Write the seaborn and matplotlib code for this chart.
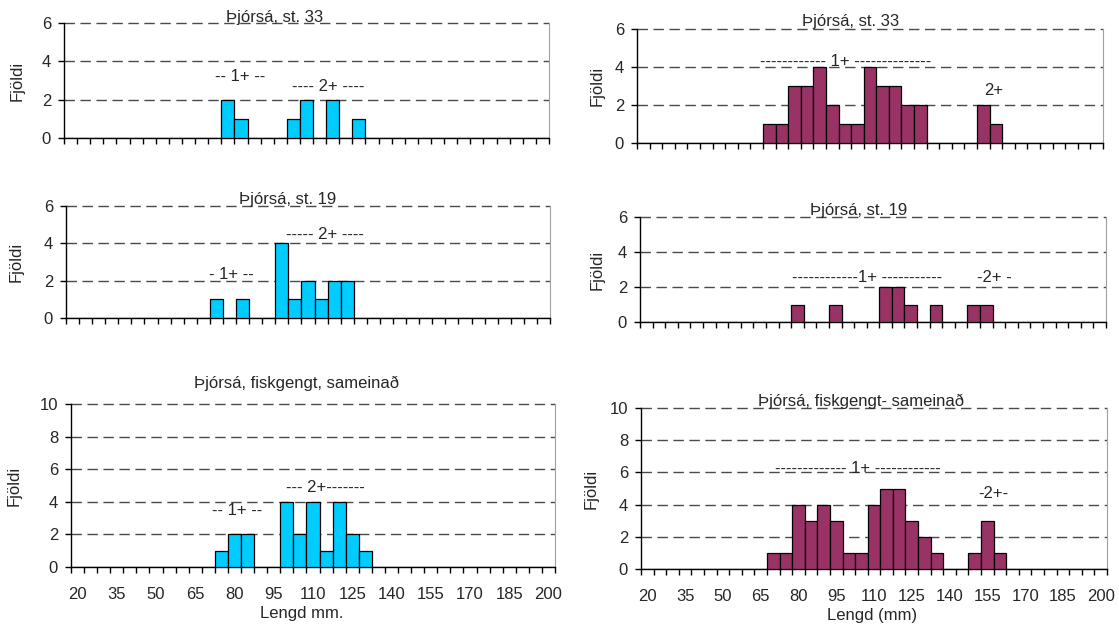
import matplotlib
matplotlib.use("Agg")
import matplotlib.pyplot as plt
import seaborn as sns
import pandas as pd

# ---------------- data ----------------
lengths = [20, 25, 30, 35, 40, 45, 50, 55, 60, 65, 70, 75, 80, 85, 90, 95, 100,
           105, 110, 115, 120, 125, 130, 135, 140, 145, 150, 155, 160, 165, 170,
           175, 180, 185, 190, 195, 200]
tick_labels = ["20", "35", "50", "65", "80", "95", "110", "125", "140", "155",
               "170", "185", "200"]

st33_a_len = [80, 85, 105, 110, 120, 130]
st33_a_n = [2, 1, 1, 2, 2, 1]
st19_a_len = [75, 85, 100, 105, 110, 115, 120, 125]
st19_a_n = [1, 1, 4, 1, 2, 1, 2, 2]
comb_a_len = [75, 80, 85, 100, 105, 110, 115, 120, 125, 130]
comb_a_n = [1, 2, 2, 4, 2, 4, 1, 4, 2, 1]

st33_b_len = [70, 75, 80, 85, 90, 95, 100, 105, 110, 115, 120, 125, 130, 155, 160]
st33_b_n = [1, 1, 3, 3, 4, 2, 1, 1, 4, 3, 3, 2, 2, 2, 1]
st19_b_len = [80, 95, 115, 120, 125, 135, 150, 155]
st19_b_n = [1, 1, 2, 2, 1, 1, 1, 1]
comb_b_len = [70, 75, 80, 85, 90, 95, 100, 105, 110, 115, 120, 125, 130, 135,
              150, 155, 160]
comb_b_n = [1, 1, 4, 3, 4, 3, 1, 1, 4, 5, 5, 3, 2, 1, 1, 3, 1]

titles = ["Þjórsá, st. 33", "Þjórsá, st. 33", "Þjórsá, st. 19", "Þjórsá, st. 19",
          "Þjórsá, fiskgengt, sameinað", "Þjórsá, fiskgengt- sameinað"]
xlabels = ["Lengd mm.", "Lengd (mm)"]

CYAN = "#00CCFF"
MAROON = "#993366"
FS = 12

W, H = 1119, 628
sns.set_theme(style="white")
plt.rcParams["font.family"] = ["Liberation Sans", "DejaVu Sans"]

fig = plt.figure(figsize=(W / 100, H / 100), dpi=100)


def rect(l, r, t, b):
    return [l / W, 1 - b / H, (r - l) / W, (b - t) / H]


panels = [
    dict(lens=st33_a_len, n=st33_a_n, color=CYAN, rect=rect(64, 549, 23, 138),
         ymax=6, title=titles[0], tx=15.6, ty=6.05,
         ann=[("-- 1+ --", 12.9, 3.19), ("---- 2+ ----", 19.65, 2.7)],
         ylx=25, bottom=False),
    dict(lens=st33_b_len, n=st33_b_n, color=MAROON, rect=rect(637, 1103, 29, 143),
         ymax=6, title=titles[1], tx=16.48, ty=6.14,
         ann=[("------------ 1+ --------------", 16.1, 4.29), ("2+", 27.8, 2.74)],
         ylx=605, bottom=False),
    dict(lens=st19_a_len, n=st19_a_n, color=CYAN, rect=rect(66, 550, 206, 318),
         ymax=6, title=titles[2], tx=16.45, ty=6.12,
         ann=[("- 1+ --", 12.13, 2.34), ("----- 2+ ----", 19.27, 4.47)],
         ylx=24, bottom=False),
    dict(lens=st19_b_len, n=st19_b_n, color=MAROON, rect=rect(640, 1106, 217, 322),
         ymax=6, title=titles[3], tx=16.85, ty=6.09,
         ann=[("------------1+ -----------", 17.56, 2.54), ("-2+ -", 27.6, 2.54)],
         ylx=605, bottom=False),
    dict(lens=comb_a_len, n=comb_a_n, color=CYAN, rect=rect(71, 555, 404, 567),
         ymax=10, title=titles[4], tx=16.76, ty=10.98,
         ann=[("-- 1+ --", 12.2, 3.44), ("--- 2+-------", 18.94, 4.85)],
         ylx=22, bottom=True, xlabel=xlabels[0], xlx=302),
    dict(lens=comb_b_len, n=comb_b_n, color=MAROON, rect=rect(641, 1107, 408, 569),
         ymax=10, title=titles[5], tx=17.0, ty=10.12,
         ann=[("------------- 1+ ------------", 16.72, 6.27), ("-2+-", 27.5, 4.71)],
         ylx=599, bottom=True, xlabel=xlabels[1], xlx=872),
]

cats = [str(v) for v in lengths]

for p in panels:
    ax = fig.add_axes(p["rect"])
    lookup = dict(zip(p["lens"], p["n"]))
    df = pd.DataFrame({"Lengd": cats, "Fjoldi": [lookup.get(v, 0) for v in lengths]})
    sns.barplot(data=df, x="Lengd", y="Fjoldi", order=cats, color=p["color"],
                saturation=1, width=1.0, edgecolor="black", linewidth=0.9,
                errorbar=None, ax=ax, zorder=3)
    ymax = p["ymax"]
    ax.set_xlim(-0.5, len(cats) - 0.5)
    ax.set_ylim(0, ymax)
    yt = list(range(0, ymax + 1, 2))
    ax.set_yticks(yt)
    ax.set_yticklabels([str(v) for v in yt], fontsize=FS)
    for v in yt[1:]:
        ax.axhline(v, color="#4a4a4a", lw=1.0, ls=(0, (7.5, 4)), zorder=1,
                   clip_on=False)
    # x ticks: marks between categories, labels every 3rd category
    ax.set_xticks([i - 0.5 for i in range(len(cats) + 1)], minor=True)
    ax.set_xticks(list(range(0, len(cats), 3)))
    ax.set_xticklabels(tick_labels, fontsize=FS)
    ax.tick_params(axis="x", which="minor", length=4.2, width=1, color="black",
                   direction="out", bottom=True)
    ax.tick_params(axis="x", which="major", length=0, pad=14.5,
                   labelbottom=p["bottom"])
    ax.tick_params(axis="y", which="major", length=4.3, width=1, color="black",
                   direction="out", left=True, pad=5)
    for s in ["left", "bottom"]:
        ax.spines[s].set_visible(True)
        ax.spines[s].set_color("black")
        ax.spines[s].set_linewidth(1.0)
    ax.spines["top"].set_visible(False)
    ax.spines["right"].set_visible(True)
    ax.spines["right"].set_color("#a0a0a0")
    ax.spines["right"].set_linewidth(0.8)
    ax.set_facecolor("white")
    ax.grid(False)
    ax.set_ylabel("Fjöldi", fontsize=FS)
    l = p["rect"][0] * W
    aw = p["rect"][2] * W
    ax.yaxis.set_label_coords((p["ylx"] - l) / aw, 0.5)
    if p["bottom"]:
        ax.set_xlabel(p["xlabel"], fontsize=FS, labelpad=3)
        ax.xaxis.label.set_x((p["xlx"] - l) / aw)
    else:
        ax.set_xlabel("")
    ax.text(p["tx"], p["ty"], p["title"], ha="center", va="baseline", fontsize=FS,
            zorder=5)
    for txt, x, y in p["ann"]:
        ax.text(x, y, txt, ha="center", va="center", fontsize=FS, zorder=5)

fig.savefig("out.png", dpi=100, facecolor="white")
